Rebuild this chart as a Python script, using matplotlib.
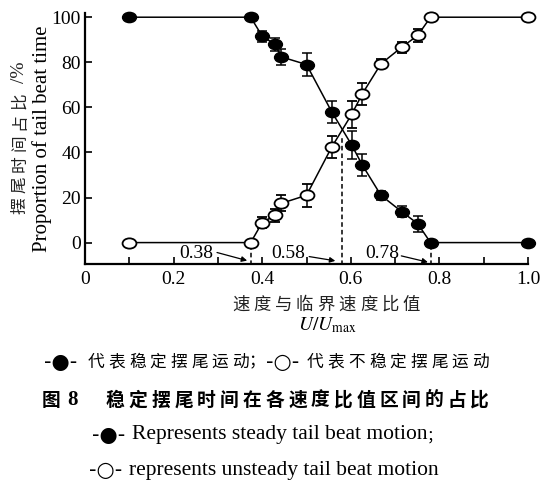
import matplotlib
matplotlib.use("Agg")
import matplotlib.pyplot as plt
from matplotlib.path import Path
from matplotlib.transforms import Affine2D

plt.rcParams['mathtext.fontset'] = 'stix'

# data
x_vals = [0.10, 0.374, 0.400, 0.429, 0.443, 0.500, 0.557, 0.602, 0.626, 0.668, 0.715, 0.751, 0.780, 1.00]
steady = [100, 100, 91.6, 87.9, 82.4, 79.0, 58.0, 43.3, 34.4, 21.0, 13.7, 8.4, 0, 0]
steady_err = [0, 0, 2.5, 3, 3.5, 5, 5, 6, 5, 2, 2.5, 3.5, 0, 0]
unsteady = [0, 0, 8.9, 12.1, 17.4, 21.0, 42.4, 56.9, 66.0, 79.3, 86.7, 91.9, 100, 100]
unsteady_err = [0, 0, 2.5, 3, 3.5, 5, 5, 6, 5, 2, 2.5, 3, 0, 0]

marks = [0.374, 0.580, 0.780]
mark_labels = ['0.38', '0.58', '0.78']
mark_tops = [0, 47, 0]

serif = ['Liberation Serif', 'Noto Sans CJK SC', 'DejaVu Sans']
cjk = ['Noto Sans CJK SC', 'DejaVu Sans']

W, H = 546, 480
fig = plt.figure(figsize=(5.46, 4.8), dpi=100)
ax = fig.add_axes([85 / W, 1 - 264 / H, 443 / W, (264 - 12.7) / H])


def px(x, y):
    # pixel position (from top-left) -> figure fraction
    return x / W, 1 - y / H


def spaced(chars, x0, x1, y, **kw):
    # put characters evenly between x0 and x1 (pixels), like the spaced typesetting
    n = len(chars)
    step = (x1 - x0) / n
    for i, c in enumerate(chars):
        fig.text(*px(x0 + step * (i + 0.5), y), c, ha='center', va='center', **kw)


# the printed markers are a bit wider than tall
ellipse = Path.unit_circle().transformed(Affine2D().scale(1.35, 1.0))

ax.errorbar(x_vals, steady, yerr=steady_err, color='black', marker=ellipse, ms=10,
            mfc='black', mec='black', lw=1.1, elinewidth=1.1, capsize=3.5, capthick=1.1,
            clip_on=False, zorder=3)
ax.errorbar(x_vals, unsteady, yerr=unsteady_err, color='black', marker=ellipse, ms=10,
            mfc='white', mec='black', mew=1.3, lw=1.1, elinewidth=1.1, capsize=3.5,
            capthick=1.1, clip_on=False, zorder=3)

# dashed markers at the transition points
for xm, top in zip(marks, mark_tops):
    ax.plot([xm, xm], [-10, top], ls='--', color='black', lw=1.1, dashes=(3, 2))

# arrow annotations
label_pos = [(0.250, -5.0), (0.459, -5.0), (0.671, -4.8)]
arrow_from = [(0.298, -4.4), (0.506, -6.2), (0.714, -5.9)]
arrow_to = [(0.366, -8.0), (0.565, -8.1), (0.774, -8.7)]
for lab, tp, af, at in zip(mark_labels, label_pos, arrow_from, arrow_to):
    ax.text(tp[0], tp[1], lab, ha='center', va='center', fontsize=14, family=serif)
    ax.annotate('', xy=at, xytext=af,
                arrowprops=dict(arrowstyle='-|>', color='black', lw=0.9,
                                mutation_scale=8, shrinkA=0, shrinkB=0))

ax.set_xlim(0, 1.0)
ax.set_ylim(-9.5, 102)
ax.set_xticks([0, 0.2, 0.4, 0.6, 0.8, 1.0])
ax.set_xticklabels(['0', '0.2', '0.4', '0.6', '0.8', '1.0'])
ax.set_xticks([0.1, 0.3, 0.5, 0.7, 0.9], minor=True)
ax.set_yticks([0, 20, 40, 60, 80, 100])
for s in ['top', 'right']:
    ax.spines[s].set_visible(False)
for s in ['left', 'bottom']:
    ax.spines[s].set_linewidth(1.6)
ax.tick_params(which='both', direction='in', length=5, width=1.2, pad=5)
ax.tick_params(axis='x', which='major', labelsize=14)
ax.tick_params(axis='y', labelsize=14, pad=3)
for t in ax.get_xticklabels() + ax.get_yticklabels():
    t.set_family(serif)

# y axis labels (two lines)
for i, c in enumerate('摆尾时间占比'):
    fig.text(*px(20, 206 - 21 * i), c, rotation=90, ha='center', va='center',
             fontsize=12, family=cjk, color='#222222')
fig.text(*px(20, 72), '/%', rotation=90, ha='center', va='center',
         fontsize=14, family=serif, color='#222222')
fig.text(*px(42, 139), 'Proportion of tail beat time', rotation=90,
         ha='center', va='center', fontsize=15, family=serif)

# x axis labels
spaced('速度与临界速度比值', 230, 422, 305, fontsize=12.5, family=cjk, color='#222222')
fig.text(*px(327, 325), r'$U/U_{\rm max}$', ha='center', va='center', fontsize=14)

# caption, chinese legend line
fig.text(*px(61, 362), '-●-', ha='center', va='center', fontsize=15, family=['DejaVu Sans'])
spaced('代表稳定摆尾运动', 86, 251, 362, fontsize=12, family=cjk)
fig.text(*px(257, 362), '；', ha='center', va='center', fontsize=12, family=cjk)
fig.text(*px(283, 362), '-○-', ha='center', va='center', fontsize=15, family=['DejaVu Sans'])
spaced('代表不稳定摆尾运动', 305, 491, 362, fontsize=12, family=cjk)

# figure title
fig.text(*px(51, 400), '图', ha='center', va='center', fontsize=13.5, family=cjk, weight='bold')
fig.text(*px(72, 400), '8', ha='center', va='center', fontsize=15, family=serif, weight='bold')
spaced('稳定摆尾时间在各速度比值区间的占比', 104, 491, 400, fontsize=13.5, family=cjk,
       weight='bold')

# english legend lines
fig.text(*px(109, 435), '-●-', ha='center', va='center', fontsize=15, family=['DejaVu Sans'])
fig.text(*px(132, 435), 'Represents steady tail beat motion', ha='left', va='center',
         fontsize=15.5, family=serif)
fig.text(*px(434, 436), '；', ha='center', va='center', fontsize=11, family=cjk)
fig.text(*px(106, 470), '-○-', ha='center', va='center', fontsize=15, family=['DejaVu Sans'])
fig.text(*px(129, 470), 'represents unsteady tail beat motion', ha='left', va='center',
         fontsize=15.5, family=serif)

fig.savefig('out.png', dpi=100)
